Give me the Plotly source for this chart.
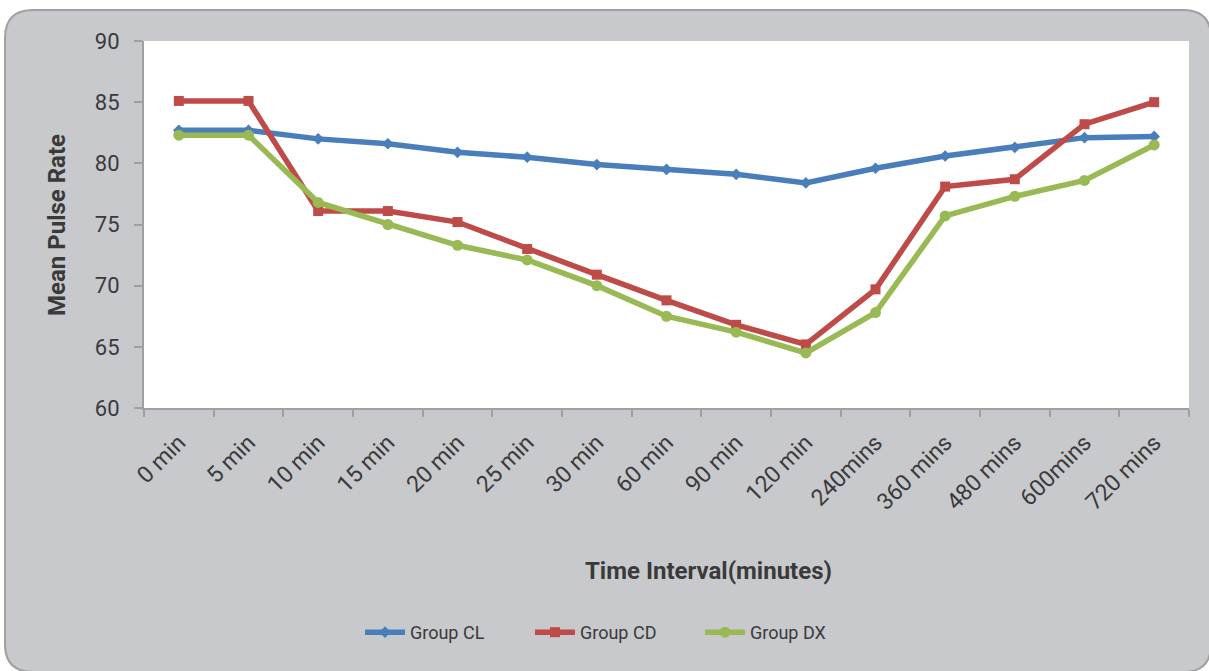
import plotly.graph_objects as go

categories = ["0 min", "5 min", "10 min", "15 min", "20 min", "25 min", "30 min",
              "60 min", "90 min", "120 min", "240mins", "360 mins", "480 mins",
              "600mins", "720 mins"]
group_cl = [82.7, 82.7, 82.0, 81.6, 80.9, 80.5, 79.9, 79.5, 79.1, 78.4, 79.6, 80.6, 81.3, 82.1, 82.2]
group_cd = [85.1, 85.1, 76.1, 76.1, 75.2, 73.0, 70.9, 68.8, 66.8, 65.2, 69.7, 78.1, 78.7, 83.2, 85.0]
group_dx = [82.3, 82.3, 76.8, 75.0, 73.3, 72.1, 70.0, 67.5, 66.2, 64.5, 67.8, 75.7, 77.3, 78.6, 81.5]
y_ticks = [60, 65, 70, 75, 80, 85, 90]

W, H = 1209, 671
L, R, T, B = 144, 1189, 41, 408  # plot area in pixels


def px(x):
    return (x - L) / (R - L)


def py(y):
    return (B - y) / (B - T)


def rounded_rect(x0, y0, x1, y1, r):
    pts = [
        f"M {px(x0 + r)} {py(y0)}",
        f"L {px(x1 - r)} {py(y0)}",
        f"Q {px(x1)} {py(y0)} {px(x1)} {py(y0 + r)}",
        f"L {px(x1)} {py(y1 - r)}",
        f"Q {px(x1)} {py(y1)} {px(x1 - r)} {py(y1)}",
        f"L {px(x0 + r)} {py(y1)}",
        f"Q {px(x0)} {py(y1)} {px(x0)} {py(y1 - r)}",
        f"L {px(x0)} {py(y0 + r)}",
        f"Q {px(x0)} {py(y0)} {px(x0 + r)} {py(y0)}",
        "Z",
    ]
    return " ".join(pts)


FONT = "Roboto, 'Open Sans', sans-serif"
TXT = "#3a3a3a"

fig = go.Figure()
fig.add_trace(go.Scatter(x=categories, y=group_cl, name="Group CL", mode="lines+markers",
                         line=dict(color="#4A7EBB", width=5.5),
                         marker=dict(symbol="diamond", size=9, color="#4A7EBB")))
fig.add_trace(go.Scatter(x=categories, y=group_cd, name="Group CD", mode="lines+markers",
                         line=dict(color="#BE4B48", width=5.5),
                         marker=dict(symbol="square", size=10, color="#BE4B48")))
fig.add_trace(go.Scatter(x=categories, y=group_dx, name="Group DX", mode="lines+markers",
                         line=dict(color="#98B954", width=5.5),
                         marker=dict(symbol="circle", size=11, color="#98B954")))

fig.update_layout(
    width=W, height=H,
    margin=dict(l=L, r=W - R, t=T, b=H - B, pad=0),
    paper_bgcolor="white",
    plot_bgcolor="rgba(0,0,0,0)",
    font=dict(family=FONT, color=TXT, size=20),
    showlegend=True,
    legend=dict(orientation="h", x=px(360), xanchor="left", y=py(614), yanchor="top",
                font=dict(size=18, color=TXT), bgcolor="rgba(0,0,0,0)",
                entrywidth=115, entrywidthmode="pixels", itemwidth=40),
    shapes=[
        dict(type="path", xref="paper", yref="paper", path=rounded_rect(5, 10, 1211, 672, 28),
             fillcolor="#C8C9CD", line=dict(color="#A0A0A2", width=2), layer="below"),
        dict(type="rect", xref="paper", yref="paper", x0=0, y0=0, x1=1, y1=1,
             fillcolor="white", line=dict(width=0), layer="below"),
    ],
    annotations=[
        dict(text="<b>Mean Pulse Rate</b>", xref="paper", yref="paper", x=px(57), y=py(225),
             showarrow=False, textangle=-90, font=dict(size=24, color=TXT),
             xanchor="center", yanchor="middle"),
        dict(text="<b>Time Interval(minutes)</b>", xref="paper", yref="paper", x=px(708), y=py(571),
             showarrow=False, font=dict(size=24, color=TXT), xanchor="center", yanchor="middle"),
    ],
)
fig.update_xaxes(type="category", range=[-0.5, 14.5], tickson="boundaries", ticks="outside",
                 ticklen=7, tickwidth=2, tickcolor="#A0A0A0", showline=True, linecolor="#A0A0A0",
                 linewidth=2, showgrid=False, tickangle=-45, tickfont=dict(size=23, color=TXT),
                 ticklabelstandoff=10, zeroline=False)
fig.update_yaxes(range=[60, 90], tickvals=y_ticks, ticks="outside", ticklen=8, tickwidth=2,
                 tickcolor="#A0A0A0", showline=True, linecolor="#A0A0A0", linewidth=2,
                 showgrid=False, tickfont=dict(size=22, color=TXT), ticklabelstandoff=10,
                 zeroline=False)

fig.write_html("out.html", config={"displayModeBar": False},
               post_script="document.body.style.margin='0';")
